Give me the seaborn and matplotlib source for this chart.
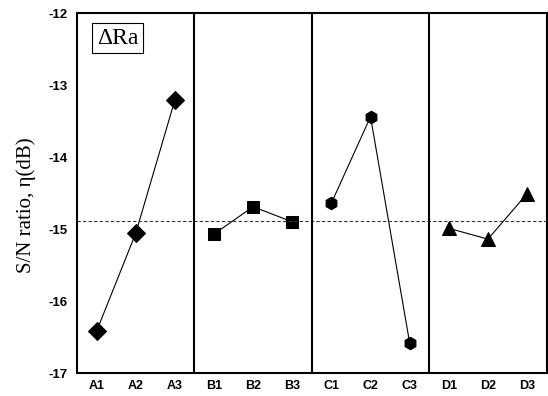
import matplotlib
matplotlib.use("Agg")
import matplotlib.pyplot as plt
import seaborn as sns
import pandas as pd

levels = ["A1", "A2", "A3", "B1", "B2", "B3", "C1", "C2", "C3", "D1", "D2", "D3"]
groups = ["A", "A", "A", "B", "B", "B", "C", "C", "C", "D", "D", "D"]
sn_ratio = [-16.42, -15.06, -13.21, -15.07, -14.69, -14.90,
            -14.64, -13.44, -16.58, -14.99, -15.14, -14.51]
mean_sn = -14.89
y_ticks = [-17, -16, -15, -14, -13, -12]

sns.set_theme(style="white")
plt.rcParams["font.family"] = ["Liberation Sans", "DejaVu Sans"]

df = pd.DataFrame({"level": levels, "group": groups, "sn": sn_ratio})
df["pos"] = range(1, len(levels) + 1)

fig = plt.figure(figsize=(5.48, 3.96), dpi=100)
ax = fig.add_axes([0.1405, 0.058, 0.857, 0.909])

markers = {"A": "D", "B": "s", "C": "h", "D": "^"}
msizes = {"A": 9, "B": 8, "C": 9, "D": 10}
for g in ["A", "B", "C", "D"]:
    sub = df[df["group"] == g]
    sns.lineplot(data=sub, x="pos", y="sn", ax=ax, color="black", linewidth=0.8,
                 marker=markers[g], markersize=msizes[g], markeredgecolor="black",
                 markerfacecolor="black", legend=False)

ax.axhline(mean_sn, color="#333333", linestyle=(0, (3, 2)), linewidth=0.8)
for xv in [3.5, 6.5, 9.5]:
    ax.axvline(xv, color="black", linewidth=1.5)

ax.set_xlim(0.5, 12.5)
ax.set_ylim(-17, -12)
ax.set_xticks(df["pos"])
ax.set_xticklabels(levels)
ax.set_yticks(y_ticks)
ax.set_yticklabels([str(v) for v in y_ticks])
ax.tick_params(direction="in", length=5, width=1.2, labelsize=9, color="black",
               labelcolor="black")
ax.tick_params(axis="x", pad=5)
ax.tick_params(axis="y", pad=7, labelsize=9.5)
for lab in ax.get_xticklabels() + ax.get_yticklabels():
    lab.set_fontweight("bold")
for sp in ax.spines.values():
    sp.set_visible(True)
    sp.set_color("black")
    sp.set_linewidth(1.5)

ax.set_xlabel("")
ax.set_ylabel("S/N ratio, η(dB)", family=["Liberation Serif", "DejaVu Serif"],
              fontsize=15, fontweight="normal", color="black")
ax.yaxis.set_label_coords(-0.088, 0.467)

ax.text(0.043, 0.93, "ΔRa", transform=ax.transAxes, family=["Liberation Serif", "DejaVu Serif"],
        fontsize=17, color="black", va="center", ha="left",
        bbox=dict(boxstyle="square,pad=0.2", facecolor="white", edgecolor="black", linewidth=0.8))

fig.savefig("out.png", dpi=100)
